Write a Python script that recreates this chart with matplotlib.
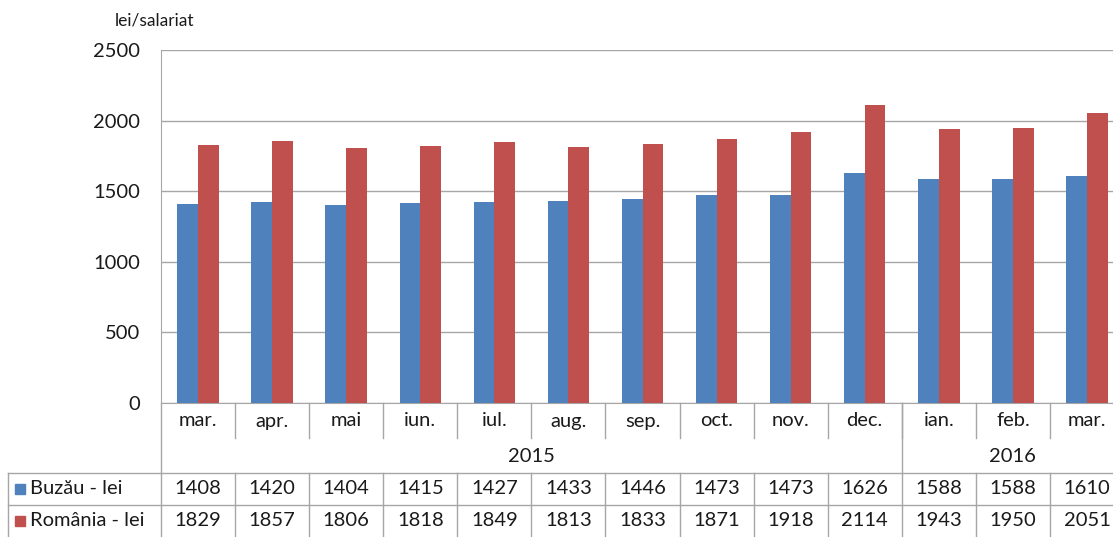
import matplotlib
matplotlib.use('Agg')
import matplotlib.pyplot as plt
import numpy as np

months = ['mar.', 'apr.', 'mai', 'iun.', 'iul.', 'aug.', 'sep.', 'oct.', 'nov.', 'dec.',
          'ian.', 'feb.', 'mar.']
years = ['2015', '2016']
year_len = [10, 3]
buzau = [1408, 1420, 1404, 1415, 1427, 1433, 1446, 1473, 1473, 1626, 1588, 1588, 1610]
romania = [1829, 1857, 1806, 1818, 1849, 1813, 1833, 1871, 1918, 2114, 1943, 1950, 2051]
series_names = ['Buzău - lei', 'România - lei']

BLUE = '#4f81bd'
RED = '#c0504d'
LINE = '#a6a6a6'
TXT = '#1a1a1a'
FS = 14.5

plt.rcParams['font.family'] = ['Lato', 'DejaVu Sans']

W, H = 1113, 537
fig = plt.figure(figsize=(W / 100, H / 100), dpi=100)
# plot area in pixels: x 161..1124 (cut by the image edge), y 50..403
x0, x1, y0, y1 = 161, 1124, 50, 403
ax = fig.add_axes([x0 / W, 1 - y1 / H, (x1 - x0) / W, (y1 - y0) / H])

n = len(months)
x = np.arange(n)
bw = 0.28
ax.bar(x - bw / 2, buzau, bw, color=BLUE, zorder=3)
ax.bar(x + bw / 2, romania, bw, color=RED, zorder=3)

ax.set_xlim(-0.5, n - 0.5)
ax.set_ylim(0, 2500)
ax.set_yticks(np.arange(0, 2501, 500))
ax.yaxis.grid(True, color=LINE, lw=1, zorder=0)
ax.set_xticks([])
ax.tick_params(axis='y', length=0, labelsize=FS, colors=TXT, pad=15)
for s in ['top', 'right']:
    ax.spines[s].set_visible(False)
ax.spines['left'].set_color(LINE)
ax.spines['bottom'].set_color(LINE)

fig.text(155 / W, 1 - 20 / H, 'lei/salariat', ha='center', va='center', fontsize=12.5, color=TXT)

# table below the plot, x in data units, y in axes fraction
ph = y1 - y0
tr = ax.get_xaxis_transform()
def fy(py):
    return (y1 - py) / ph

px_per_unit = (x1 - x0) / n
xl = -0.5 - (x0 - 8) / px_per_unit
kw = dict(color=LINE, lw=1, transform=tr, clip_on=False)

# month row
for i in range(n):
    ax.text(i, fy(421), months[i], ha='center', va='center', fontsize=FS, color=TXT,
            transform=tr, clip_on=False)
for i in range(1, n):
    ax.plot([i - 0.5, i - 0.5], [fy(403), fy(438)], **kw)

# year row
start = 0
for yr, ln in zip(years, year_len):
    ax.text(start + (ln - 1) / 2, fy(456), yr, ha='center', va='center', fontsize=FS,
            color=TXT, transform=tr, clip_on=False)
    ax.plot([start - 0.5, start - 0.5], [fy(403), fy(473)], **kw)
    start += ln

# data rows
rows = [(buzau, BLUE), (romania, RED)]
row_y = [(473, 505), (505, 537)]
for (vals, col), name, (ra, rb) in zip(rows, series_names, row_y):
    ax.plot([xl, n], [fy(ra), fy(ra)], **kw)
    cy = (ra + rb) / 2
    for i, v in enumerate(vals):
        ax.text(i, fy(cy), str(v), ha='center', va='center', fontsize=FS, color=TXT,
                transform=tr, clip_on=False)
    fig.patches.append(plt.Rectangle((15 / W, 1 - (cy + 5) / H), 10 / W, 10 / H,
                                     color=col, transform=fig.transFigure))
    fig.text(30 / W, 1 - cy / H, name, ha='left', va='center', fontsize=FS, color=TXT)
for i in range(n):
    ax.plot([i - 0.5, i - 0.5], [fy(473), fy(540)], **kw)
ax.plot([xl, xl], [fy(473), fy(540)], **kw)

fig.savefig('out.png', dpi=100)
